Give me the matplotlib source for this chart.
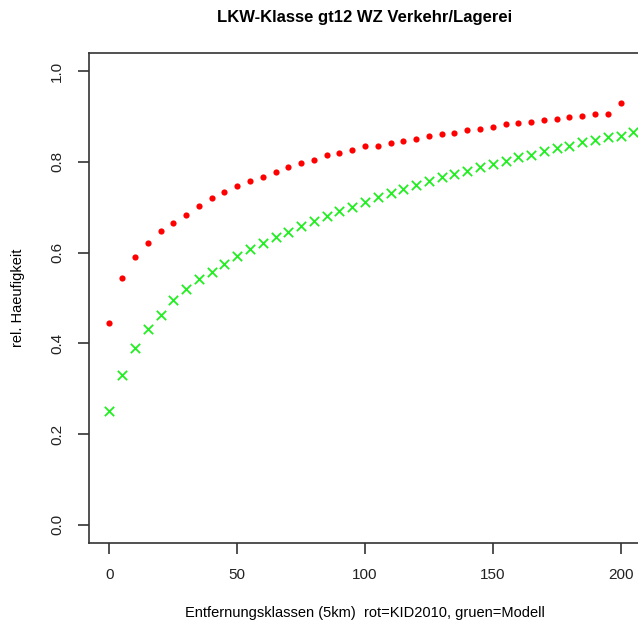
import numpy as np
import matplotlib
matplotlib.use('Agg')
import matplotlib.pyplot as plt

plt.rcParams['font.family'] = ['Liberation Sans', 'DejaVu Sans']

# distance classes (5km steps)
x_kid = list(range(0, 201, 5))
kid2010 = [0.445, 0.544, 0.591, 0.622, 0.647, 0.665, 0.684, 0.703, 0.721, 0.734,
           0.746, 0.758, 0.767, 0.777, 0.789, 0.798, 0.804, 0.815, 0.820, 0.826,
           0.834, 0.836, 0.842, 0.845, 0.851, 0.857, 0.862, 0.864, 0.870, 0.873,
           0.876, 0.883, 0.886, 0.889, 0.892, 0.895, 0.898, 0.902, 0.905, 0.905,
           0.930]

x_mod = list(range(0, 206, 5))
modell = [0.250, 0.331, 0.390, 0.432, 0.463, 0.495, 0.519, 0.541, 0.558, 0.575,
          0.593, 0.607, 0.622, 0.634, 0.646, 0.658, 0.669, 0.681, 0.691, 0.701,
          0.712, 0.722, 0.731, 0.741, 0.749, 0.758, 0.766, 0.773, 0.781, 0.788,
          0.796, 0.803, 0.810, 0.816, 0.823, 0.831, 0.836, 0.843, 0.848, 0.854,
          0.858, 0.865]

fig = plt.figure(figsize=(6.38, 6.27), dpi=100)
# plot region runs past the right edge (image is cropped there)
ax = fig.add_axes([89 / 638, 1 - 543 / 627, (641 - 89) / 638, (543 - 53) / 627])

ax.scatter(x_kid, kid2010, s=20, color='#ff0000', marker='o', linewidths=0, zorder=3)
ax.scatter(x_mod, modell, s=45, color='#22ee22', marker='x', linewidths=1.3, zorder=3)

ax.set_xlim(-8, 208)
ax.set_ylim(-0.04, 1.04)
ax.set_xticks([0, 50, 100, 150, 200])
ax.set_yticks([0.0, 0.2, 0.4, 0.6, 0.8, 1.0])
ax.set_yticklabels(['0.0', '0.2', '0.4', '0.6', '0.8', '1.0'], rotation=90, va='center')

for sp in ax.spines.values():
    sp.set_color('#333333')
    sp.set_linewidth(1.2)
ax.tick_params(direction='out', length=8, width=1.2, color='#333333',
               labelsize=11, labelcolor='#222222', pad=10)

ax.set_title('LKW-Klasse gt12 WZ Verkehr/Lagerei', fontsize=12, fontweight='bold', pad=22)
ax.set_xlabel('Entfernungsklassen (5km)  rot=KID2010, gruen=Modell', fontsize=10.5, labelpad=17)
ax.set_ylabel('rel. Haeufigkeit', fontsize=10.5, labelpad=18)

fig.savefig('out.png', dpi=100)
